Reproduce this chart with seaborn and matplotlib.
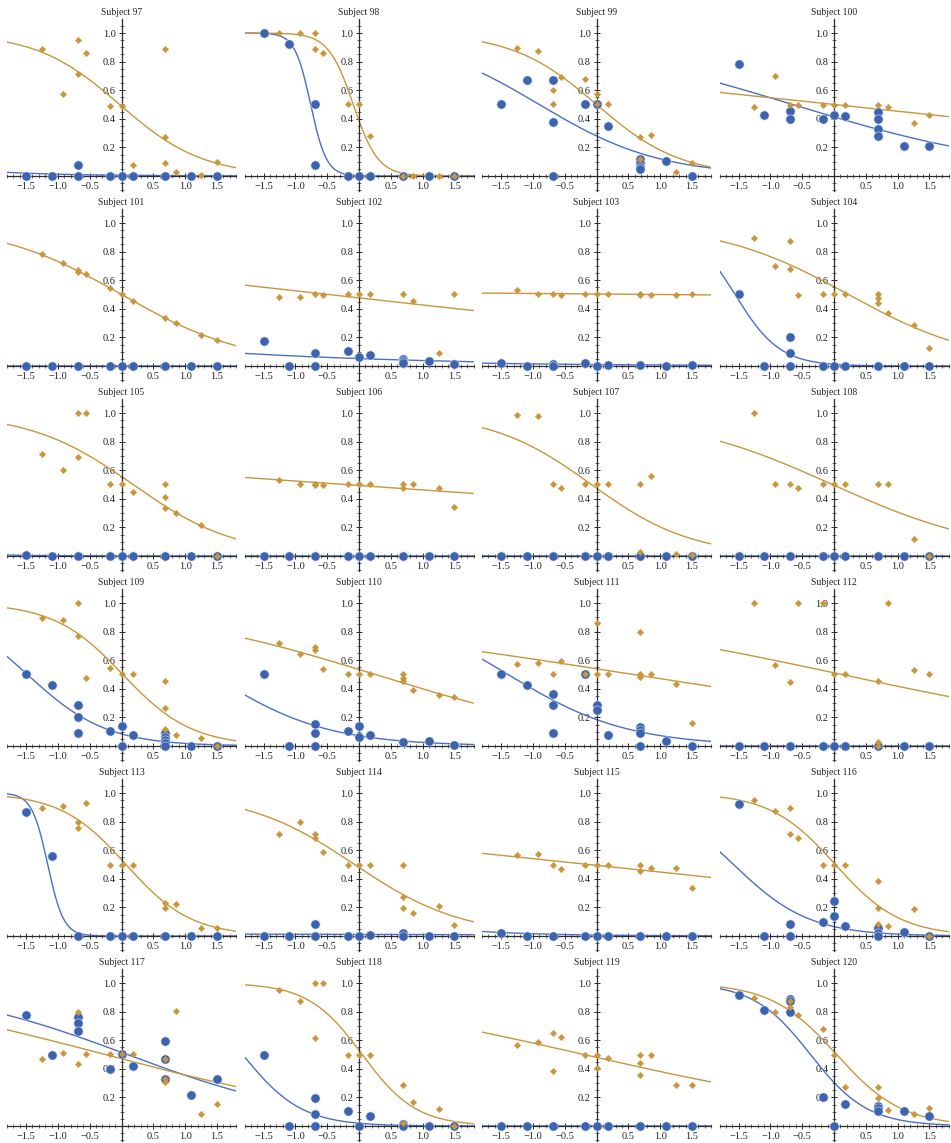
import numpy as np
import pandas as pd
import matplotlib
matplotlib.use("Agg")
import matplotlib.pyplot as plt
from matplotlib.ticker import MultipleLocator, FixedLocator
import seaborn as sns

subjects = list(range(97, 121))

# blue series: all-zero responses at the standard contrasts
blue_zero = [(-1.5, 0), (-1.1, 0), (-0.69, 0), (-0.18, 0), (0, 0), (0.18, 0),
             (0.69, 0), (1.1, 0), (1.5, 0)]

blue_pts = {
    97: [(-1.5, 0), (-1.1, 0), (-0.69, 0.08), (-0.69, 0), (-0.18, 0), (0, 0), (0.18, 0), (0.69, 0), (1.1, 0), (1.5, 0)],
    98: [(-1.5, 1.0), (-1.1, 0.92), (-0.69, 0.5), (-0.69, 0.08), (-0.18, 0), (0, 0), (0.18, 0), (0.69, 0), (1.1, 0), (1.5, 0)],
    99: [(-1.5, 0.5), (-1.1, 0.67), (-0.69, 0.67), (-0.69, 0.38), (-0.69, 0), (-0.18, 0.5), (0, 0.5), (0.18, 0.35),
         (0.69, 0.12), (0.69, 0.09), (0.69, 0.065), (0.69, 0.05), (1.1, 0.105), (1.5, 0)],
    100: [(-1.5, 0.785), (-1.1, 0.43), (-0.69, 0.455), (-0.69, 0.4), (-0.18, 0.4), (0, 0.43), (0.18, 0.42),
          (0.69, 0.45), (0.69, 0.4), (0.69, 0.33), (0.69, 0.28), (1.1, 0.21), (1.5, 0.21)],
    101: blue_zero,
    102: [(-1.5, 0.175), (-1.1, 0), (-0.69, 0.09), (-0.69, 0), (-0.18, 0.105), (0, 0.065), (0.18, 0.075),
          (0.69, 0.05), (0.69, 0.035), (0.69, 0.02), (1.1, 0.035), (1.5, 0.017)],
    103: [(-1.5, 0.02), (-1.1, 0), (-0.69, 0.015), (-0.69, 0), (-0.18, 0.02), (0, 0), (0.18, 0.01), (0.69, 0.007),
          (1.1, 0), (1.5, 0.005)],
    104: [(-1.5, 0.5), (-1.1, 0), (-0.69, 0.2), (-0.69, 0.09), (-0.69, 0), (-0.18, 0), (0, 0), (0.18, 0),
          (0.69, 0), (1.1, 0), (1.5, 0)],
    105: [(-1.5, 0.005), (-1.1, 0), (-0.69, 0), (-0.18, 0), (0, 0), (0.18, 0), (0.69, 0), (1.1, 0), (1.5, 0)],
    106: blue_zero,
    107: blue_zero,
    108: blue_zero,
    109: [(-1.5, 0.505), (-1.1, 0.428), (-0.69, 0.287), (-0.69, 0.203), (-0.69, 0.091), (-0.18, 0.105), (0, 0.14),
          (0, 0), (0.18, 0.077), (0.69, 0.09), (0.69, 0.065), (0.69, 0.04), (0.69, 0.02), (0.69, 0), (1.1, 0), (1.5, 0)],
    110: [(-1.5, 0.5), (-1.1, 0), (-0.69, 0.152), (-0.69, 0.09), (-0.69, 0), (-0.18, 0.105), (0, 0.14), (0, 0.065),
          (0.18, 0.077), (0.69, 0.026), (1.1, 0.035), (1.5, 0.009)],
    111: [(-1.5, 0.505), (-1.1, 0.428), (-0.69, 0.364), (-0.69, 0.287), (-0.69, 0.091), (-0.18, 0.502), (0, 0.287),
          (0, 0.252), (0.18, 0.077), (0.69, 0.135), (0.69, 0.112), (0.69, 0.089), (0.69, 0), (1.1, 0.035), (1.5, 0)],
    112: blue_zero,
    113: [(-1.5, 0.864), (-1.1, 0.56), (-0.69, 0), (-0.18, 0), (0, 0), (0.18, 0), (0.69, 0), (1.1, 0), (1.5, 0)],
    114: [(-1.5, 0), (-1.1, 0), (-0.69, 0.084), (-0.69, 0), (-0.18, 0), (0, 0), (0.18, 0.007), (0.69, 0.019),
          (0.69, 0), (1.1, 0.002), (1.5, 0.002)],
    115: [(-1.5, 0.021), (-1.1, 0), (-0.69, 0), (-0.18, 0), (0, 0), (0.18, 0), (0.69, 0), (1.1, 0.002), (1.5, 0)],
    116: [(-1.5, 0.92), (-1.1, 0), (-0.69, 0.084), (-0.69, 0), (-0.18, 0.098), (0, 0.246), (0, 0.14), (0.18, 0.07),
          (0.69, 0.054), (0.69, 0.023), (0.69, 0), (1.1, 0.028), (1.5, 0)],
    117: [(-1.5, 0.778), (-1.1, 0.498), (-0.69, 0.759), (-0.69, 0.722), (-0.69, 0.666), (-0.18, 0.4), (0, 0.5),
          (0.18, 0.42), (0.69, 0.596), (0.69, 0.467), (0.69, 0.327), (1.1, 0.217), (1.5, 0.33)],
    118: [(-1.5, 0.498), (-1.1, 0), (-0.69, 0.196), (-0.69, 0.086), (-0.69, 0), (-0.18, 0.105), (0, 0), (0.18, 0.07),
          (0.69, 0.012), (0.69, 0), (1.1, 0), (1.5, 0)],
    119: blue_zero,
    120: [(-1.5, 0.918), (-1.1, 0.813), (-0.69, 0.888), (-0.69, 0.871), (-0.69, 0.799), (-0.18, 0.203), (0, 0),
          (0.18, 0.152), (0.69, 0.14), (0.69, 0.124), (0.69, 0.105), (1.1, 0.105), (1.5, 0.07)],
}

gold_pts = {
    97: [(-1.25, 0.89), (-0.92, 0.57), (-0.69, 0.95), (-0.69, 0.71), (-0.56, 0.86), (-0.18, 0.49), (0, 0.49),
         (0.18, 0.08), (0.69, 0.89), (0.69, 0.27), (0.69, 0.09), (0.85, 0.03), (1.25, 0.01), (1.5, 0.1)],
    98: [(-1.25, 1.0), (-0.92, 1.0), (-0.69, 1.0), (-0.69, 0.89), (-0.56, 0.86), (-0.18, 0.5), (0, 0.5),
         (0.18, 0.28), (0.69, 0), (0.85, 0), (1.25, 0), (1.5, 0)],
    99: [(-1.25, 0.895), (-0.92, 0.875), (-0.69, 0.6), (-0.69, 0.5), (-0.56, 0.69), (-0.18, 0.68), (0, 0.57),
         (0, 0.5), (0.18, 0.5), (0.69, 0.27), (0.69, 0.12), (0.85, 0.29), (1.25, 0.03), (1.5, 0.09)],
    100: [(-1.25, 0.485), (-0.92, 0.7), (-0.69, 0.495), (-0.56, 0.495), (-0.18, 0.495), (0, 0.495), (0.18, 0.495),
          (0.69, 0.495), (0.85, 0.485), (1.25, 0.37), (1.5, 0.425)],
    101: [(-1.25, 0.78), (-0.92, 0.72), (-0.69, 0.67), (-0.69, 0.66), (-0.56, 0.64), (-0.18, 0.545), (0, 0.5),
          (0.18, 0.455), (0.69, 0.335), (0.85, 0.3), (1.25, 0.22), (1.5, 0.18)],
    102: [(-1.25, 0.485), (-0.92, 0.48), (-0.69, 0.5), (-0.56, 0.495), (-0.18, 0.5), (0, 0.5), (0.18, 0.5),
          (0.69, 0.5), (0.85, 0.455), (1.25, 0.09), (1.5, 0.5)],
    103: [(-1.25, 0.53), (-0.92, 0.5), (-0.69, 0.5), (-0.56, 0.495), (-0.18, 0.5), (0, 0.5), (0.18, 0.5),
          (0.69, 0.5), (0.69, 0.495), (0.85, 0.495), (1.25, 0.495), (1.5, 0.5)],
    104: [(-1.25, 0.895), (-0.92, 0.7), (-0.69, 0.875), (-0.69, 0.68), (-0.56, 0.495), (-0.18, 0.5), (0, 0.5),
          (0.18, 0.5), (0.69, 0.5), (0.69, 0.475), (0.69, 0.44), (0.85, 0.37), (1.25, 0.29), (1.5, 0.125)],
    105: [(-1.25, 0.71), (-0.92, 0.6), (-0.69, 1.0), (-0.69, 0.69), (-0.56, 1.0), (-0.18, 0.5), (0, 0.5),
          (0.18, 0.45), (0.69, 0.5), (0.69, 0.41), (0.69, 0.335), (0.85, 0.3), (1.25, 0.22), (1.5, 0)],
    106: [(-1.25, 0.53), (-0.92, 0.5), (-0.69, 0.5), (-0.69, 0.495), (-0.56, 0.495), (-0.18, 0.5), (0, 0.5),
          (0.18, 0.5), (0.69, 0.5), (0.69, 0.475), (0.85, 0.5), (1.25, 0.475), (1.5, 0.34)],
    107: [(-1.25, 0.985), (-0.92, 0.98), (-0.69, 0.5), (-0.56, 0.475), (-0.18, 0.5), (0, 0.5), (0.18, 0.5),
          (0.69, 0.5), (0.69, 0.03), (0.85, 0.56), (1.25, 0.012), (1.5, 0.005)],
    108: [(-1.25, 1.0), (-0.92, 0.5), (-0.69, 0.5), (-0.56, 0.475), (-0.18, 0.5), (0, 0.5), (0.18, 0.5),
          (0.69, 0.5), (0.85, 0.5), (1.25, 0.117), (1.5, 0)],
    109: [(-1.25, 0.895), (-0.92, 0.879), (-0.69, 1.0), (-0.69, 0.769), (-0.56, 0.474), (-0.18, 0.544), (0, 0.5),
          (0.18, 0.5), (0.69, 0.453), (0.69, 0.264), (0.69, 0.121), (0.85, 0.075), (1.25, 0.058), (1.5, 0)],
    110: [(-1.25, 0.72), (-0.92, 0.643), (-0.69, 0.689), (-0.69, 0.668), (-0.56, 0.537), (-0.18, 0.5), (0, 0.5),
          (0.18, 0.5), (0.69, 0.5), (0.69, 0.474), (0.69, 0.453), (0.85, 0.39), (1.25, 0.355), (1.5, 0.341)],
    111: [(-1.25, 0.572), (-0.92, 0.579), (-0.69, 0.5), (-0.56, 0.593), (-0.18, 0.5), (0, 0.86), (0, 0.5),
          (0.18, 0.5), (0.69, 0.8), (0.69, 0.5), (0.69, 0.48), (0.85, 0.5), (1.25, 0.432), (1.5, 0.159)],
    112: [(-1.25, 1.0), (-0.92, 0.565), (-0.69, 0.449), (-0.56, 1.0), (-0.18, 1.0), (0, 0.5), (0.18, 0.5),
          (0.69, 0.453), (0.69, 0.026), (0.69, 0), (0.85, 1.0), (1.25, 0.533), (1.5, 0.5)],
    113: [(-1.25, 0.897), (-0.92, 0.911), (-0.69, 0.8), (-0.69, 0.754), (-0.56, 0.932), (-0.18, 0.496), (0, 0.496),
          (0.18, 0.496), (0.69, 0.234), (0.69, 0.194), (0.85, 0.222), (1.25, 0.054), (1.5, 0.054)],
    114: [(-1.25, 0.714), (-0.92, 0.8), (-0.69, 0.714), (-0.69, 0.684), (-0.56, 0.585), (-0.18, 0.496), (0, 0.496),
          (0.18, 0.496), (0.69, 0.496), (0.69, 0.274), (0.69, 0.194), (0.85, 0.164), (1.25, 0.208), (1.5, 0.075)],
    115: [(-1.25, 0.567), (-0.92, 0.574), (-0.69, 0.496), (-0.56, 0.468), (-0.18, 0.496), (0, 0.496), (0.18, 0.496),
          (0.69, 0.496), (0.69, 0.457), (0.85, 0.475), (1.25, 0.475), (1.5, 0.335)],
    116: [(-1.25, 0.953), (-0.92, 0.874), (-0.69, 0.897), (-0.69, 0.714), (-0.56, 0.684), (-0.18, 0.496), (0, 0.496),
          (0.18, 0.496), (0.69, 0.384), (0.69, 0.194), (0.69, 0.087), (0.85, 0.068), (1.25, 0.187), (1.5, 0)],
    117: [(-1.25, 0.467), (-0.92, 0.509), (-0.69, 0.799), (-0.69, 0.435), (-0.56, 0.5), (-0.18, 0.5), (0, 0.5),
          (0.18, 0.5), (0.69, 0.467), (0.69, 0.327), (0.69, 0.308), (0.85, 0.804), (1.25, 0.086), (1.5, 0.152)],
    118: [(-1.25, 0.951), (-0.92, 0.872), (-0.69, 1.0), (-0.69, 0.614), (-0.56, 1.0), (-0.18, 0.495), (0, 0.495),
          (0.18, 0.495), (0.69, 0.285), (0.69, 0.019), (0.85, 0.166), (1.25, 0.117), (1.5, 0)],
    119: [(-1.25, 0.565), (-0.92, 0.586), (-0.69, 0.65), (-0.69, 0.383), (-0.56, 0.62), (-0.18, 0.495), (0, 0.495),
          (0, 0.404), (0.18, 0.479), (0.69, 0.495), (0.69, 0.44), (0.69, 0.355), (0.85, 0.495), (1.25, 0.285),
          (1.5, 0.285)],
    120: [(-1.25, 0.895), (-0.92, 0.799), (-0.69, 0.871), (-0.69, 0.829), (-0.56, 0.776), (-0.18, 0.678), (0, 0.495),
          (0.18, 0.276), (0.69, 0.271), (0.69, 0.196), (0.85, 0.114), (1.25, 0.086), (1.5, 0.124)],
}

# fitted logistic curves: (midpoint, slope), p = 1 / (1 + exp(slope * (x - midpoint)))
blue_fit = {
    97: (-5.8, 0.91), 98: (-0.76, 8.0), 99: (-0.9, 1.05), 100: (-0.65, 0.54),
    101: (-10, 1.0), 102: (-9.1, 0.32), 103: (-11.8, 0.39), 104: (-1.556, 2.83),
    105: (-6.0, 1.2), 106: (-10, 1.0), 107: (-10, 1.0), 108: (-10, 1.0),
    109: (-1.48, 1.61), 110: (-2.33, 1.10), 111: (-1.39, 1.066), 112: (-10, 1.0),
    113: (-1.16, 8.0), 114: (-45, 0.1), 115: (-5.6, 0.9), 116: (-1.58, 1.68),
    117: (0.09, 0.658), 118: (-1.83, 2.15), 119: (-10, 1.0), 120: (-0.37, 2.23),
}
gold_fit = {
    97: (-0.03, 1.525), 98: (-0.09, 5.1), 99: (0.0, 1.51), 100: (0.0, 0.19),
    101: (0.0, 1.0), 102: (-0.48, 0.2), 103: (0.97, 0.0144), 104: (0.226, 0.963),
    105: (0.18, 1.233), 106: (-0.22, 0.125), 107: (-0.08, 1.264), 108: (-0.026, 0.794),
    109: (0.02, 1.84), 110: (0.254, 0.548), 111: (0.58, 0.278), 112: (0.124, 0.38),
    113: (0.07, 1.95), 114: (-0.07, 1.178), 115: (-0.13, 0.189), 116: (0.02, 1.95),
    117: (-0.26, 0.468), 118: (0.05, 2.36), 119: (-0.2, 0.405), 120: (0.04, 1.94),
}

x_ticks = [-1.5, -1.0, -0.5, 0.5, 1.0, 1.5]
y_ticks = [0.2, 0.4, 0.6, 0.8, 1.0]

BLUE = "#3b63b0"
BLUE_LINE = "#4a70c4"
GOLD = "#c8963c"
AXIS = "#2b2b2b"


def logistic(x, mid, slope):
    return 1.0 / (1.0 + np.exp(slope * (x - mid)))


def fmt(v):
    return f"{v:.1f}".replace("-", "\u2212")


def main():
    sns.set_style("ticks")
    plt.rcParams["font.family"] = ["Liberation Serif", "DejaVu Serif"]

    W, H = 951, 1143
    fig = plt.figure(figsize=(W / 100, H / 100), dpi=100)
    xs = np.linspace(-1.8, 1.8, 400)

    for k, subj in enumerate(subjects):
        i, j = divmod(k, 4)
        left = 7 + 237.5 * j
        top = 19 + 190 * i
        ax = fig.add_axes([left / W, 1 - (top + 172) / H, 229 / W, 172 / H])

        curves = pd.DataFrame({
            "x": xs,
            "blue": logistic(xs, *blue_fit[subj]),
            "gold": logistic(xs, *gold_fit[subj]),
        })
        sns.lineplot(data=curves, x="x", y="blue", ax=ax, color=BLUE_LINE, lw=1.0,
                     estimator=None, sort=False, zorder=2)
        sns.lineplot(data=curves, x="x", y="gold", ax=ax, color=GOLD, lw=1.0,
                     estimator=None, sort=False, zorder=2)

        bdf = pd.DataFrame(blue_pts[subj], columns=["x", "y"])
        gdf = pd.DataFrame(gold_pts[subj], columns=["x", "y"])
        sns.scatterplot(data=bdf, x="x", y="y", ax=ax, color=BLUE, s=44,
                        edgecolor="#dfe6f3", linewidth=0.4, zorder=3, clip_on=False)
        sns.scatterplot(data=gdf, x="x", y="y", ax=ax, color=GOLD, marker="D", s=11,
                        edgecolor=GOLD, linewidth=0.3, zorder=4, clip_on=False)

        ax.set_xlim(-1.8, 1.8)
        ax.set_ylim(-0.105, 1.098)
        ax.set_xlabel("")
        ax.set_ylabel("")

        # axes crossing at the origin
        ax.spines["left"].set_position(("data", 0))
        ax.spines["bottom"].set_position(("data", 0))
        ax.spines["top"].set_visible(False)
        ax.spines["right"].set_visible(False)
        for side in ("left", "bottom"):
            ax.spines[side].set_color(AXIS)
            ax.spines[side].set_linewidth(0.9)
            ax.spines[side].set_zorder(2.5)

        ax.xaxis.set_major_locator(FixedLocator(x_ticks))
        ax.yaxis.set_major_locator(FixedLocator(y_ticks))
        ax.xaxis.set_minor_locator(MultipleLocator(0.1))
        ax.yaxis.set_minor_locator(MultipleLocator(0.05))
        ax.set_xticklabels([fmt(v) for v in x_ticks])
        ax.set_yticklabels([fmt(v) for v in y_ticks])
        ax.tick_params(which="major", direction="inout", length=4, width=0.7,
                       color=AXIS, labelsize=7.5, pad=2, labelcolor="#222222")
        ax.tick_params(which="minor", direction="inout", length=2.2, width=0.5, color=AXIS)

        ax.set_title(f"Subject {subj}", fontsize=6.9, pad=3, color="#222222")
        ax.patch.set_visible(False)

    plt.savefig("out.png", dpi=100)


if __name__ == "__main__":
    main()
